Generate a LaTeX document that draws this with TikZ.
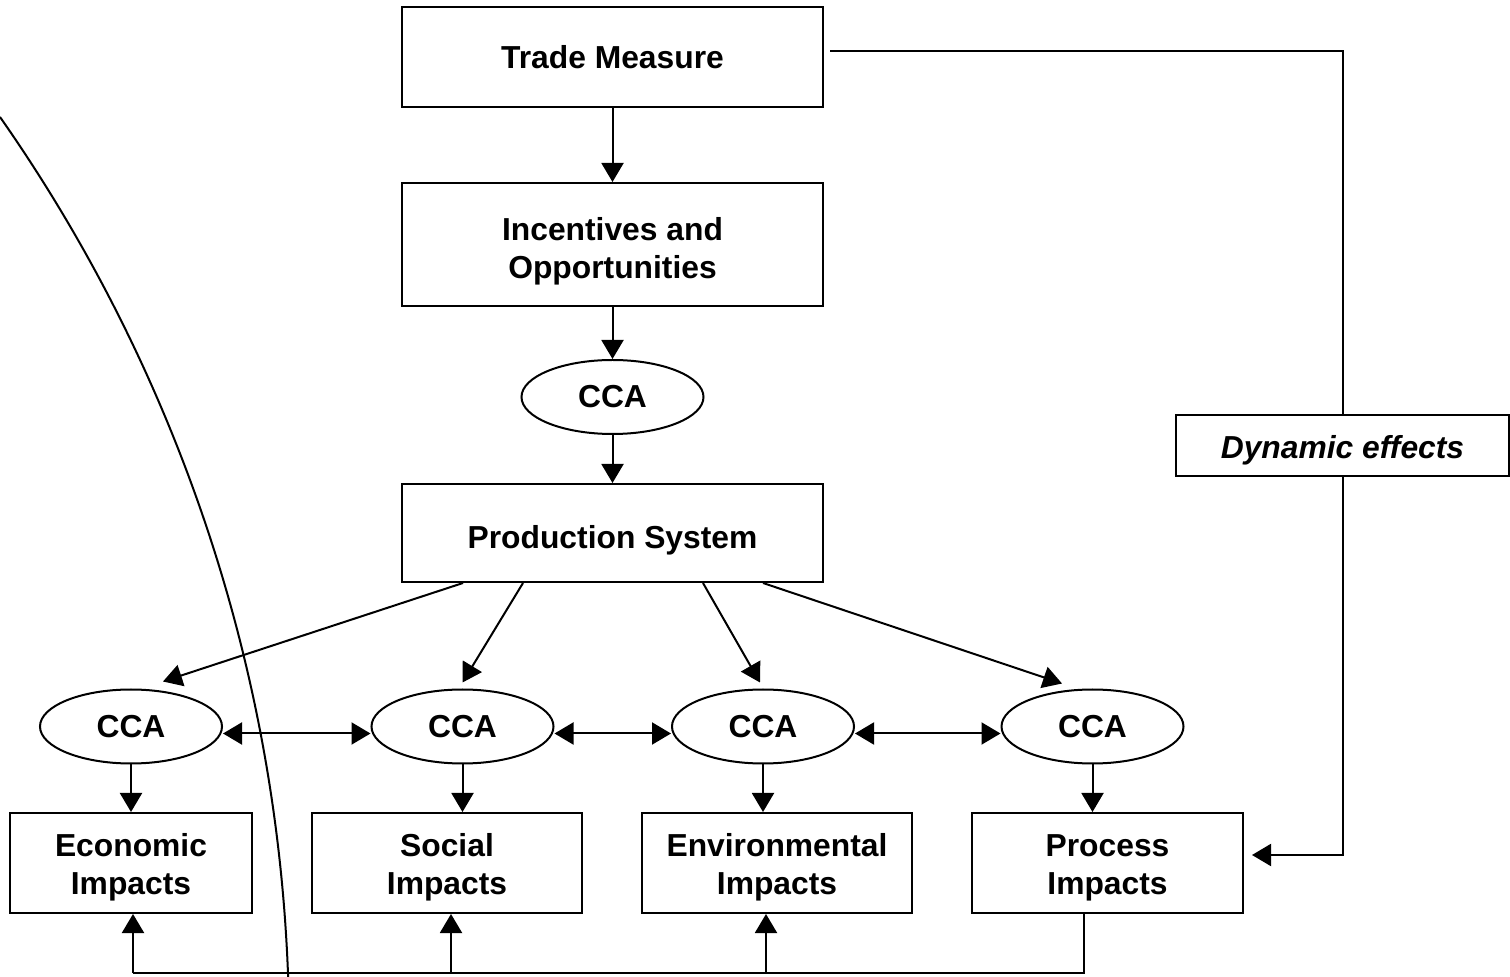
\documentclass[tikz,border=0pt]{standalone}
\usepackage{fontspec}
\setmainfont{Liberation Sans}
\usetikzlibrary{arrows.meta,shapes.geometric,calc}
\newcommand{\twolines}[2]{\begin{tabular}[t]{@{}c@{}}#1\\#2\end{tabular}}
\begin{document}
\begin{tikzpicture}[x=0.5pt,y=-0.5pt,
  every node/.style={font=\fontsize{15.9pt}{19pt}\selectfont\bfseries, inner sep=0pt},
  box/.style={draw, line width=1pt, rectangle},
  oval/.style={draw, line width=1pt, ellipse, minimum width=91pt, minimum height=37pt},
  conn/.style={line width=1pt},
  arr/.style={line width=1pt, -{Triangle[length=9.5pt,width=11pt]}},
  darr/.style={line width=1pt, {Triangle[length=9.5pt,width=11pt]}-{Triangle[length=9.5pt,width=11pt]}},
  incpos/.style={text height=10pt, text depth=14pt},
  imppos/.style={text height=10pt, text depth=16.5pt}
]
\useasboundingbox (0,0) rectangle (1510,977);

% main column
\node[box, minimum width=210.5pt, minimum height=50pt] (trade) at (612.5,57) {Trade Measure};
\node[box, incpos, minimum width=210.5pt, minimum height=61.5pt] (inc) at (612.5,244.5) {\twolines{Incentives and}{Opportunities}};
\node[oval] (cca0) at (612.5,397) {CCA};
\node[box, text height=15.5pt, text depth=0pt, minimum width=210.5pt, minimum height=49pt] (prod) at (612.5,533) {Production System};

% CCA row
\node[oval] (c1) at (131,726.5) {CCA};
\node[oval] (c2) at (462.5,726.5) {CCA};
\node[oval] (c3) at (763,726.5) {CCA};
\node[oval] (c4) at (1092.5,726.5) {CCA};

% impacts
\node[box, imppos, minimum width=121pt, minimum height=50pt] (econ) at (131,863) {\twolines{Economic}{Impacts}};
\node[box, imppos, minimum width=135pt, minimum height=50pt] (social) at (447,863) {\twolines{Social}{Impacts}};
\node[box, imppos, minimum width=135pt, minimum height=50pt] (env) at (777,863) {\twolines{Environmental}{Impacts}};
\node[box, imppos, minimum width=135.5pt, minimum height=50pt] (proc) at (1107.5,863) {\twolines{Process}{Impacts}};

% dynamic effects
\node[box, text height=13pt, text depth=0pt, minimum width=166.5pt, minimum height=30.5pt, font=\fontsize{15.9pt}{19pt}\selectfont\bfseries\itshape] (dyn) at (1342.5,445.5) {Dynamic effects};

% vertical chain
\draw[arr] (trade.south) -- (inc.north);
\draw[arr] (inc.south) -- (cca0.north);
\draw[arr] (cca0.south) -- (prod.north);

% production to CCAs
\draw[arr] ($(prod.south)+(-149.5,0)$) -- ($(c1.north)+(32,-7)$);
\draw[arr] ($(prod.south)+(-89.5,0)$) -- ($(c2.north)+(0,-6)$);
\draw[arr] ($(prod.south)+(90.5,0)$) -- ($(c3.north)+(-3,-6)$);
\draw[arr] ($(prod.south)+(150.5,0)$) -- ($(c4.north)+(-30.5,-5)$);

% double arrows between CCAs
\draw[darr] ($(c1.east)+(0,7)$) -- ($(c2.west)+(0,7)$);
\draw[darr] ($(c2.east)+(0,7)$) -- ($(c3.west)+(0,7)$);
\draw[darr] ($(c3.east)+(0,7)$) -- ($(c4.west)+(0,7)$);

% CCA to impacts
\draw[arr] (c1.south) -- (c1.south |- econ.north);
\draw[arr] (c2.south) -- (c2.south |- social.north);
\draw[arr] (c3.south) -- (c3.south |- env.north);
\draw[arr] (c4.south) -- (c4.south |- proc.north);

% feedback along bottom
\coordinate (pb) at ($(proc.south)+(-24,0)$);
\coordinate (fbR) at ($(pb)+(0,59)$);
\coordinate (eb) at ($(econ.south)+(2,0)$);
\coordinate (sb) at ($(social.south)+(4,0)$);
\coordinate (vb) at ($(env.south)+(-11,0)$);
\draw[conn] (pb) -- (fbR) -- (fbR -| eb);
\draw[arr] (eb |- fbR) -- (eb);
\draw[arr] (sb |- fbR) -- (sb);
\draw[arr] (vb |- fbR) -- (vb);

% dynamic effects loop
\coordinate (ts) at ($(trade.east)+(6,-6)$);
\draw[conn] (ts) -| (dyn.north);
\coordinate (pe) at ($(proc.east)+(8,-8)$);
\draw[arr] (dyn.south) |- (pe);

% large boundary curve
\coordinate (cs) at (0,117);
\draw[line width=1pt] (cs) arc[start angle=35, end angle=2.04, radius=799.5pt];
\end{tikzpicture}
\end{document}
